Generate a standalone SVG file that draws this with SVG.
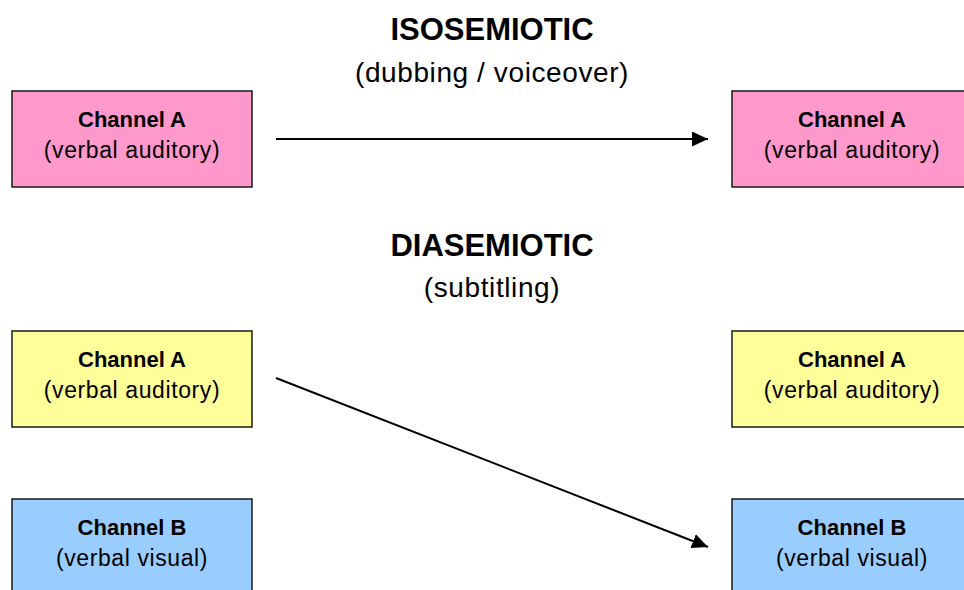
<svg xmlns="http://www.w3.org/2000/svg" width="964" height="590" viewBox="0 0 964 590">
<style>
.box{stroke:#1a1a1a;stroke-width:1.5}
.pink{fill:#FF99CC}.yellow{fill:#FFFF99}.blue{fill:#99CCFF}
text{font-family:"Liberation Sans",Arial,sans-serif;fill:#000;text-anchor:middle}
.t{font-size:22px;font-weight:bold}
.s{font-size:23px;letter-spacing:0.6px}
.h{font-size:31px;font-weight:bold}
.hs{font-size:28px;letter-spacing:0.6px}
.conn{stroke:#000;stroke-width:2;fill:none;marker-end:url(#ah)}
</style>
<defs>
<marker id="ah" viewBox="0 0 16 15" refX="16" refY="7.5" markerWidth="16" markerHeight="15" orient="auto" markerUnits="userSpaceOnUse">
<path d="M0,0 L16,7.5 L0,15 z" fill="#000"/>
</marker>
</defs>
<rect width="964" height="590" fill="#fff"/>
<g id="title-iso">
<text class="h" x="492" y="40">ISOSEMIOTIC</text>
<text class="hs" x="492" y="82">(dubbing / voiceover)</text>
</g>
<g id="title-dia">
<text class="h" x="492" y="256">DIASEMIOTIC</text>
<text class="hs" x="492" y="297">(subtitling)</text>
</g>
<g id="iso-src">
<rect class="box pink" x="12" y="91" width="240" height="96"/>
<text class="t" x="132" y="127">Channel A</text>
<text class="s" x="132" y="158">(verbal auditory)</text>
</g>
<g id="iso-dst">
<rect class="box pink" x="732" y="91" width="240" height="96"/>
<text class="t" x="852" y="127">Channel A</text>
<text class="s" x="852" y="158">(verbal auditory)</text>
</g>
<g id="dia-srcA">
<rect class="box yellow" x="12" y="331" width="240" height="96"/>
<text class="t" x="132" y="367">Channel A</text>
<text class="s" x="132" y="398">(verbal auditory)</text>
</g>
<g id="dia-srcB">
<rect class="box blue" x="12" y="499" width="240" height="96"/>
<text class="t" x="132" y="535">Channel B</text>
<text class="s" x="132" y="566">(verbal visual)</text>
</g>
<g id="dia-dstA">
<rect class="box yellow" x="732" y="331" width="240" height="96"/>
<text class="t" x="852" y="367">Channel A</text>
<text class="s" x="852" y="398">(verbal auditory)</text>
</g>
<g id="dia-dstB">
<rect class="box blue" x="732" y="499" width="240" height="96"/>
<text class="t" x="852" y="535">Channel B</text>
<text class="s" x="852" y="566">(verbal visual)</text>
</g>
<g id="connectors">
<line class="conn" x1="276" y1="139" x2="708" y2="139"/>
<line class="conn" x1="276" y1="378" x2="708" y2="547"/>
</g>
</svg>
